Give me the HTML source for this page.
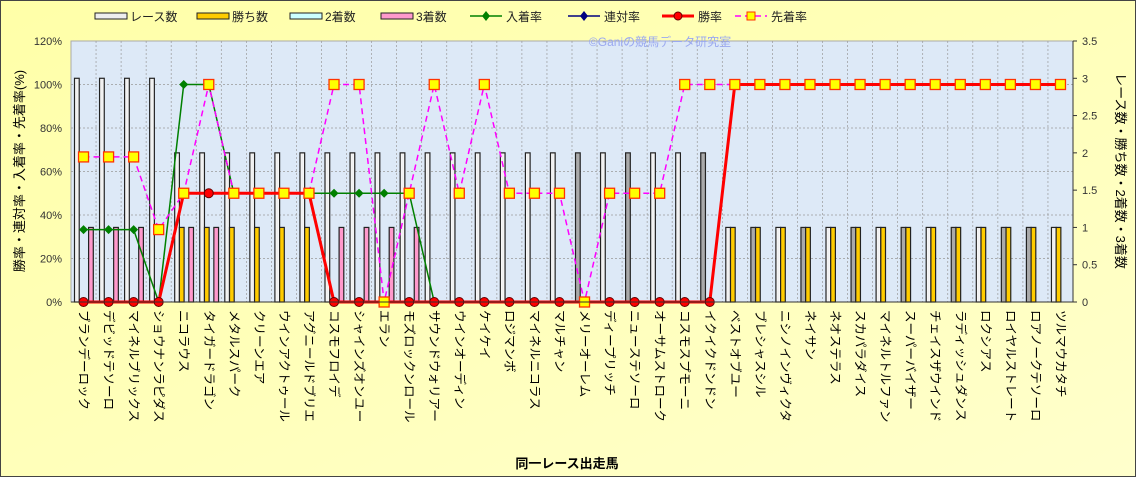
<!DOCTYPE html>
<html><head><meta charset="utf-8"><style>
html,body{margin:0;padding:0;background:#fff}
svg text{font-family:"Liberation Sans","Noto Sans CJK JP",sans-serif}
</style></head><body>
<svg id="chart" width="1136" height="477" xmlns="http://www.w3.org/2000/svg">
<defs>
<linearGradient id="bg" x1="0" y1="0" x2="1" y2="1"><stop offset="0" stop-color="#ffffa8"/><stop offset="1" stop-color="#ffffcc"/></linearGradient>
<linearGradient id="rw" x1="0" y1="0" x2="1" y2="0"><stop offset="0" stop-color="#ffffff"/><stop offset="0.5" stop-color="#eeeeee"/><stop offset="1" stop-color="#ffffff"/></linearGradient>
</defs>
<rect x="0.5" y="0.5" width="1135" height="476" fill="url(#bg)" stroke="#444"/>
<rect x="71" y="41" width="1002" height="261" fill="#dde9f7" stroke="#aaa"/>
<g id="grid"></g>
<text x="660" y="46" font-size="12" fill="#9aa8f0" text-anchor="middle">©Ganiの競馬データ研究室</text>
<g id="bars"></g><g id="lines"></g><g id="axes"></g><g id="legend"></g>
<text transform="translate(24,171) rotate(-90)" font-size="13" text-anchor="middle" fill="#000">勝率・連対率・入着率・先着率(%)</text>
<text transform="translate(1116,171) rotate(90)" font-size="13" text-anchor="middle" fill="#000">レース数・勝ち数・2着数・3着数</text>
<text x="567" y="468" font-size="13" font-weight="bold" text-anchor="middle" fill="#000">同一レース出走馬</text>
</svg>
<script>
const horses=["ブランデーロック","デビッドテソーロ","マイネルブリックス","ショウナンラピダス","ニコラウス","タイガードラゴン","メタルスパーク","クリーンエア","ウインアクトゥール","アグニールドブリエ","コスモフロイデ","シャインズオンユー","エラン","モズロックンロール","サウンドウォリアー","ウインオーディン","ケイケイ","ロジマンボ","マイネルニコラス","マルチャン","メリーオーレム","ディープリッチ","ニューステソーロ","オーサムストローク","コスモスプモーニ","イクイクドンドン","ベストオブユー","ブレシャスシル","ニシノインヴィクタ","ネイサン","ネオステラス","スカパラダイス","マイネルトルファン","スーパーバイザー","チェイスザウインド","ラディッシュダンス","ロクシアス","ロイヤルストレート","ロアノークテソーロ","ツルマウカタチ"];
const races=[3,3,3,3,2,2,2,2,2,2,2,2,2,2,2,2,2,2,2,2,2,2,2,2,2,2,1,1,1,1,1,1,1,1,1,1,1,1,1,1];
const wins=[0,0,0,0,1,1,1,1,1,1,0,0,0,0,0,0,0,0,0,0,0,0,0,0,0,0,1,1,1,1,1,1,1,1,1,1,1,1,1,1];
const seconds=[0,0,0,0,0,0,0,0,0,0,0,0,0,0,0,0,0,0,0,0,0,0,0,0,0,0,0,0,0,0,0,0,0,0,0,0,0,0,0,0];
const thirds=[1,1,1,0,1,1,0,0,0,0,1,1,1,1,0,0,0,0,0,0,0,0,0,0,0,0,0,0,0,0,0,0,0,0,0,0,0,0,0,0];
const placeRate=[33.3,33.3,33.3,0,100,100,50,50,50,50,50,50,50,50,0,0,0,0,0,0,0,0,0,0,0,0,100,100,100,100,100,100,100,100,100,100,100,100,100,100];
const rentaiRate=[0,0,0,0,50,50,50,50,50,50,0,0,0,0,0,0,0,0,0,0,0,0,0,0,0,0,100,100,100,100,100,100,100,100,100,100,100,100,100,100];
const winRate=[0,0,0,0,50,50,50,50,50,50,0,0,0,0,0,0,0,0,0,0,0,0,0,0,0,0,100,100,100,100,100,100,100,100,100,100,100,100,100,100];
const aheadRate=[66.7,66.7,66.7,33.3,50,100,50,50,50,50,100,100,0,50,100,50,100,50,50,50,0,50,50,50,100,100,100,100,100,100,100,100,100,100,100,100,100,100,100,100];
const leftTicks=["0%","20%","40%","60%","80%","100%","120%"];
const rightTicks=["0","0.5","1","1.5","2","2.5","3","3.5"];
const grayRace=[20,22,25,27,29,31,33,35,37,38];

const NS="http://www.w3.org/2000/svg";
const X0=71,X1=1073,Y0=302,Y1=41,N=horses.length,CW=(X1-X0)/N;
const yL=v=>Y0-(v/120)*(Y0-Y1);
const yR=v=>Y0-(v/3.5)*(Y0-Y1);
const xc=i=>X0+CW*(i+0.5);
function mk(tag,attrs,parent){const e=document.createElementNS(NS,tag);for(const k in attrs)e.setAttribute(k,attrs[k]);parent.appendChild(e);return e;}
const G=id=>document.getElementById(id);
for(let i=1;i<N;i++){const l=mk('line',{x1:X0+CW*i,x2:X0+CW*i,y1:Y1,y2:Y0,stroke:'#999','stroke-dasharray':'2,2','stroke-width':0.7},G('grid'));

}
leftTicks.forEach((t,k)=>{const y=yL(k*20);
if(k>0&&k<6){const l=mk('line',{x1:X0,x2:X1,y1:y,y2:y,stroke:'#999','stroke-dasharray':'2,2','stroke-width':0.7},G('grid'));

}
const tx=mk('text',{x:62,y:y+4,'font-size':11,'text-anchor':'end',fill:'#333'},G('axes'));tx.textContent=t;

});
rightTicks.forEach((t,k)=>{const y=yR(k*0.5);
mk('line',{x1:X1,x2:X1+4,y1:y,y2:y,stroke:'#333'},G('axes'));
const tx=mk('text',{x:1082,y:y+4,'font-size':11,fill:'#333'},G('axes'));tx.textContent=t;

});
mk('line',{x1:X0,x2:X1,y1:Y0,y2:Y0,stroke:'#333'},G('axes'));
mk('line',{x1:X1,x2:X1,y1:Y1,y2:Y0,stroke:'#333'},G('axes'));
horses.forEach((h,i)=>{const tx=mk('text',{x:0,y:0,'font-size':12.5,fill:'#000',transform:`translate(${xc(i)-4},310) rotate(90)`},G('axes'));tx.textContent=h;

});
const BW=CW*0.75/4,OFF=CW*0.14;
const series=[[races,'#fff'],[wins,'#ffcc00'],[seconds,'#ccffff'],[thirds,'#ff99cc']];
for(let i=0;i<N;i++){series.forEach(([arr,col],s)=>{if(!arr[i])return;const y=yR(arr[i]);
let f=col;if(s===0)f=grayRace.includes(i)?'#aaa':'url(#rw)';
const r=mk('rect',{x:X0+CW*i+OFF+s*BW,y:y,width:BW,height:Y0-y,fill:f,stroke:'#222','stroke-width':1.2},G('bars'));

});}
function line(arr,col,w,dash,name){const p=mk('polyline',{points:arr.map((v,i)=>xc(i)+','+yL(v)).join(' '),fill:'none',stroke:col,'stroke-width':w,'stroke-dasharray':dash||'none'},G('lines'));

}
line(placeRate,'#008000',1.5,null,'place-rate');
line(rentaiRate,'#000080',1.5,null,'rentai-rate');
line(aheadRate,'#ff00ff',1.5,'6,4','ahead-rate');
line(winRate,'#ff0000',3,null,'win-rate');
placeRate.forEach((v,i)=>{const x=xc(i),y=yL(v);const p=mk('polygon',{points:`${x},${y-4.5} ${x+4.5},${y} ${x},${y+4.5} ${x-4.5},${y}`,fill:'#008000'},G('lines'));

});
winRate.forEach((v,i)=>{const c=mk('circle',{cx:xc(i),cy:yL(v),r:4.5,fill:'#ff0000',stroke:'#600','stroke-width':1},G('lines'));

});
aheadRate.forEach((v,i)=>{const r=mk('rect',{x:xc(i)-5,y:yL(v)-5,width:10,height:10,fill:'#ffff00',stroke:'#ff3300','stroke-width':1.3},G('lines'));

});
const L=G('legend');
function lt(x,t,name){const tx=mk('text',{x:x,y:21,'font-size':12,fill:'#222'},L);tx.textContent=t;

}
[[95,'#eee','レース数'],[197,'#ffcc00','勝ち数'],[290,'#ccffff','2着数'],[381,'#ff99cc','3着数']].forEach(([x,c,t])=>{mk('rect',{x:x,y:13,width:32,height:6,fill:c,stroke:'#222'},L);lt(x+35,t,'legend-entry');});
function ll(x,col,dash,mark,t){mk('line',{x1:x,x2:x+32,y1:16,y2:16,stroke:col,'stroke-width':mark==='c'?3:1.5,'stroke-dasharray':dash||'none'},L);
const m=x+16;if(mark==='d')mk('polygon',{points:`${m},11 ${m+4},16 ${m},21 ${m-4},16`,fill:col},L);
if(mark==='c')mk('circle',{cx:m,cy:16,r:4,fill:'#f00',stroke:'#600'},L);
if(mark==='s')mk('rect',{x:m-4,y:12,width:8,height:8,fill:'#ff0',stroke:'#f30'},L);
lt(x+36,t,'legend-entry');}
ll(470,'#008000',null,'d','入着率');ll(568,'#000080',null,'d','連対率');ll(662,'#ff0000',null,'c','勝率');ll(735,'#ff00ff','6,4','s','先着率');
</script>
</body></html>
